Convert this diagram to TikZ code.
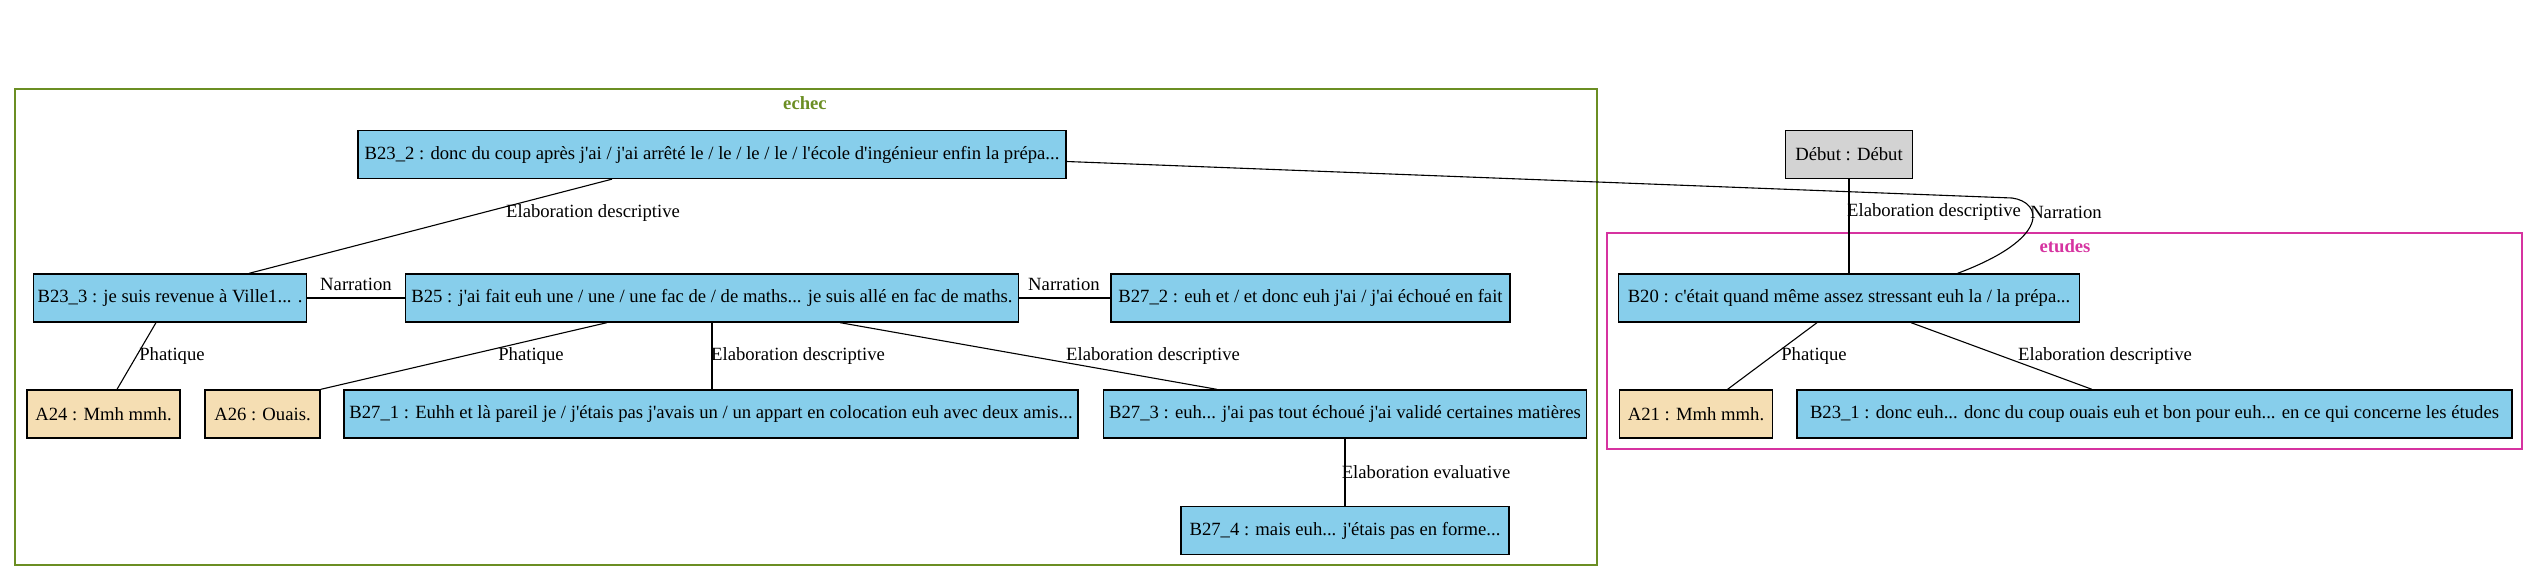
\documentclass[tikz,border=0pt]{standalone}
\usepackage{fontspec}
\setmainfont{Liberation Serif}[Ligatures=TeXOff]
\definecolor{bnode}{HTML}{87CEEB}
\definecolor{anode}{HTML}{F5DEB3}
\definecolor{gnode}{HTML}{D3D3D3}
\definecolor{echecc}{HTML}{6B8E23}
\definecolor{etudesc}{RGB}{214,51,160}
\begin{document}
\begin{tikzpicture}[x=1pt,y=-1pt,
  every node/.style={font=\fontsize{18.67}{22}\selectfont, inner sep=0pt},
  box/.style={draw=black, line width=1.3pt, minimum height=48pt, anchor=center},
  bbox/.style={box, fill=bnode},
  abox/.style={box, fill=anode},
  gbox/.style={box, fill=gnode},
  lab/.style={anchor=center},
  edge/.style={draw=black, line width=1.1pt},
  clus/.style={line width=1.3pt},
  ctitle/.style={font=\fontsize{18.67}{22}\selectfont\bfseries}
]
\useasboundingbox (0,0) rectangle (2539,581);
% clusters
\draw[clus, draw=echecc] (15,89) rectangle (1597,565);
\node[ctitle, text=echecc] (techec) at (805,103) {echec};
\draw[clus, draw=etudesc] (1607,233) rectangle (2522,449);
\node[ctitle, text=etudesc] (tetudes) at (2065,246) {etudes};
% nodes
\node[bbox, minimum width=708pt] (B23_2) at (712,154.5) {B23\_2 : donc du coup après j'ai / j'ai arrêté le / le / le / le / l'école d'ingénieur enfin la prépa...};
\node[bbox, minimum width=273pt] (B23_3) at (170,298) {B23\_3 : je suis revenue à Ville1... .};
\node[bbox, minimum width=613pt] (B25) at (712,298) {B25 : j'ai fait euh une / une / une fac de / de maths... je suis allé en fac de maths.};
\node[bbox, minimum width=399pt] (B27_2) at (1310.5,298) {B27\_2 : euh et / et donc euh j'ai / j'ai échoué en fait};
\node[abox, minimum width=153pt] (A24) at (103.5,414) {A24 : Mmh mmh.};
\node[abox, minimum width=115pt] (A26) at (262.5,414) {A26 : Ouais.};
\node[bbox, minimum width=734pt] (B27_1) at (711,414) {B27\_1 : Euhh et là pareil je / j'étais pas j'avais un / un appart en colocation euh avec deux amis...};
\node[bbox, minimum width=483pt] (B27_3) at (1345,414) {B27\_3 : euh... j'ai pas tout échoué j'ai validé certaines matières};
\node[bbox, minimum width=328pt] (B27_4) at (1345,530.5) {B27\_4 : mais euh... j'étais pas en forme...};
\node[gbox, minimum width=127pt] (Debut) at (1849,154.5) {Début : Début};
\node[bbox, minimum width=461pt] (B20) at (1849,298) {B20 : c'était quand même assez stressant euh la / la prépa...};
\node[abox, minimum width=153.5pt] (A21) at (1696,414) {A21 : Mmh mmh.};
\node[bbox, minimum width=715pt] (B23_1) at (2154.5,414) {B23\_1 : donc euh... donc du coup ouais euh et bon pour euh... en ce qui concerne les études};
% edges
\draw[edge] ([xshift=-100pt]B23_2.south) -- ([xshift=79pt]B23_3.north);
\draw[edge] (B23_3.east) -- (B25.west);
\draw[edge] (B25.east) -- (B27_2.west);
\draw[edge] ([xshift=-14pt]B23_3.south) -- ([xshift=13.5pt]A24.north);
\draw[edge] ([xshift=-105pt]B25.south) -- (A26.north east);
\draw[edge] (B25.south) -- (B25.south |- B27_1.north);
\draw[edge] ([xshift=128pt]B25.south) -- ([xshift=-128pt]B27_3.north);
\draw[edge] (B27_3.south) -- (B27_4.north);
\draw[edge] (Debut.south) -- (B20.north);
\coordinate (bend) at (2012,198);
\draw[edge] ([yshift=-7pt]B23_2.east) -- (bend) .. controls (2042,202) and (2052,238) .. ([xshift=108.5pt]B20.north);
\draw[edge] ([xshift=-32pt]B20.south) -- ([xshift=31.5pt]A21.north);
\draw[edge] ([xshift=62pt]B20.south) -- ([xshift=-62.5pt]B23_1.north);
% labels
\node[lab] (l1) at (593,213) {Elaboration descriptive};
\node[lab] (l2) at (356,284) {Narration};
\node[lab] (l3) at (1064,284) {Narration};
\node[lab] (l4) at (172,356) {Phatique};
\node[lab] (l5) at (531,356) {Phatique};
\node[lab] (l6) at (798,356) {Elaboration descriptive};
\node[lab] (l7) at (1153,356) {Elaboration descriptive};
\node[lab] (l8) at (1426,472) {Elaboration evaluative};
\node[lab] (l9) at (1934,212) {Elaboration descriptive};
\node[lab] (l10) at (2066,212) {Narration};
\node[lab] (l11) at (1814,356) {Phatique};
\node[lab] (l12) at (2105,356) {Elaboration descriptive};
\end{tikzpicture}
\end{document}
